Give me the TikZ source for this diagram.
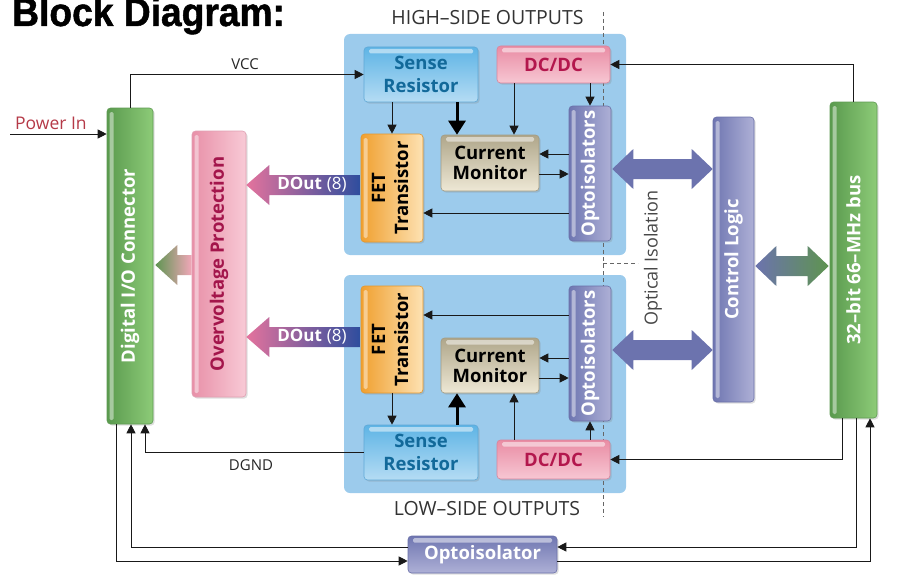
\documentclass[tikz,border=0pt]{standalone}
\usepackage{fontspec}
\setmainfont{Open Sans}
\newfontfamily\titlefont[FakeStretch=0.93,FakeBold=1.2]{Liberation Sans}
\usetikzlibrary{arrows.meta,shadows,calc}
\definecolor{grL}{HTML}{5A9A4E}
\definecolor{grR}{HTML}{8DCB78}
\definecolor{grS}{HTML}{5E9A52}
\definecolor{pkL}{HTML}{E890A8}
\definecolor{pkR}{HTML}{F8CAD6}
\definecolor{pkS}{HTML}{E0A0B2}
\definecolor{pkT}{HTML}{A3154B}
\definecolor{srT}{HTML}{5EB4E5}
\definecolor{srB}{HTML}{B5DCF4}
\definecolor{srS}{HTML}{5FA8D6}
\definecolor{srX}{HTML}{12699A}
\definecolor{dcT}{HTML}{E98CA4}
\definecolor{dcB}{HTML}{F7C7D3}
\definecolor{dcS}{HTML}{D8839B}
\definecolor{dcX}{HTML}{B3174D}
\definecolor{cmT}{HTML}{AFA68A}
\definecolor{cmB}{HTML}{EEE8D5}
\definecolor{cmS}{HTML}{A39B82}
\definecolor{feL}{HTML}{F0A030}
\definecolor{feR}{HTML}{FDE2B3}
\definecolor{feS}{HTML}{E5962A}
\definecolor{opL}{HTML}{6F76B1}
\definecolor{opR}{HTML}{AEB0D6}
\definecolor{opS}{HTML}{6A70A8}
\definecolor{panelblue}{HTML}{9CCBEC}
\definecolor{bigpur}{HTML}{6C73AE}
\definecolor{bigGrn}{HTML}{5E944F}
\definecolor{doutL}{HTML}{E4739D}
\definecolor{doutR}{HTML}{2D4D9E}
\definecolor{ovL}{HTML}{5F9552}
\definecolor{ovR}{HTML}{F2A7B9}
\definecolor{pwr}{HTML}{B53A48}
\newcommand\boxfont{\fontsize{18.5}{23}\selectfont\bfseries}
\newcommand\sglarr[4][]{%
 \path[#1] (#2) -- ($(#2)+(#4,-20)$) -- ($(#2)+(#4,-10)$) -- ($(#3)+(0,-10)$) -- ($(#3)+(0,10)$) -- ($(#2)+(#4,10)$) -- ($(#2)+(#4,20)$) -- cycle;}
\newcommand\dblarr[3][]{%
 \path[#1] (#2) -- ($(#2)+(21,-20)$) -- ($(#2)+(21,-10)$) -- ($(#3)+(-21,-10)$) -- ($(#3)+(-21,-20)$) -- (#3) -- ($(#3)+(-21,20)$) -- ($(#3)+(-21,10)$) -- ($(#2)+(21,10)$) -- ($(#2)+(21,20)$) -- cycle;}
\tikzset{
 base/.style={rounded corners=3.5pt, inner sep=0pt, line width=0.6pt, align=center, font=\boxfont,
   drop shadow={opacity=0.25,shadow xshift=1.6pt,shadow yshift=-1.6pt}},
 hlv/.style={path picture={\fill[white,opacity=.45,rounded corners=1.5pt] ([xshift=2.5pt,yshift=-4pt]path picture bounding box.north west) rectangle ([xshift=6.5pt,yshift=4pt]path picture bounding box.south west);}},
 hlh/.style={path picture={\fill[white,opacity=.5,rounded corners=1.5pt] ([xshift=5pt,yshift=-2pt]path picture bounding box.north west) rectangle ([xshift=-5pt,yshift=-6.5pt]path picture bounding box.north east);}},
 greenbar/.style={base, hlv, draw=grS, left color=grL, right color=grR, text=white},
 pinkbar/.style={base, hlv, draw=pkS, left color=pkL, right color=pkR, text=pkT},
 opbar/.style={base, hlv, draw=opS, left color=opL, right color=opR, text=white},
 fetbox/.style={base, hlv, draw=feS, left color=feL, right color=feR, text=black},
 sensebox/.style={base, hlh, draw=srS, top color=srT, bottom color=srB, text=srX},
 dcbox/.style={base, hlh, draw=dcS, top color=dcT, bottom color=dcB, text=dcX},
 cmbox/.style={base, hlh, draw=cmS, top color=cmT, bottom color=cmB, text=black, font=\fontsize{18.5}{20}\selectfont\bfseries},
 optbox/.style={base, hlh, draw=opS, top color=opL, bottom color=opR, text=white},
 panel/.style={fill=panelblue, rounded corners=6pt, inner sep=0pt},
 outlbl/.style={font=\fontsize{19.5}{20}\selectfont, text=black!80},
 small/.style={font=\fontsize{15}{15}\selectfont, text=black!85},
 arr/.style={-{Triangle[length=9pt,width=9pt]}, line width=0.9pt, black!90},
 thk/.style={-{Triangle[length=14pt,width=17pt]}, line width=3pt, black},
 dashline/.style={draw=black!60, line width=0.8pt, dash pattern=on 4pt off 3pt},
}
\begin{document}
\begin{tikzpicture}[x=1pt,y=-1pt]
\useasboundingbox (0,0) rectangle (904,578);
% title
\node[anchor=base west, inner sep=0pt, font=\titlefont\fontsize{40}{40}\selectfont\bfseries] (title) at (12,26) {Block Diagram:};
% panels
\node[panel, minimum width=282pt, minimum height=221pt] (hs) at (485,144.5) {};
\node[panel, minimum width=282pt, minimum height=218pt] (ls) at (485,384) {};
\node[outlbl, anchor=base, inner sep=0pt] (hst) at (487.5,25) {HIGH–SIDE OUTPUTS};
\node[outlbl, anchor=base, inner sep=0pt] (lst) at (487,515) {LOW–SIDE OUTPUTS};
% isolation dashed line
\coordinate (dtop) at (603,12);
\coordinate (dbot) at (603,517);
\coordinate (dmid) at (603,263);
\coordinate (dend) at (638,263);
\draw[dashline] (dtop) -- (dbot);
\draw[dashline] (dmid) -- (dend);
\node[rotate=90, inner sep=0pt, font=\fontsize{18}{18}\selectfont, text=black!72] (oi) at (653,258) {Optical Isolation};
% outer boxes
\node[greenbar, minimum width=46pt, minimum height=316pt] (dio) at (130,266) {\rotatebox{90}{Digital I/O Connector}};
\node[pinkbar, minimum width=54pt, minimum height=266pt] (ovp) at (219,264) {\rotatebox{90}{Overvoltage Protection}};
% high side boxes
\node[sensebox, minimum width=114pt, minimum height=55pt] (hsr) at (421,74.5) {Sense\\Resistor};
\node[dcbox, minimum width=113pt, minimum height=37pt] (hdc) at (553.5,64.5) {DC/DC};
\node[fetbox, minimum width=62pt, minimum height=108pt] (hfet) at (392,188) {\rotatebox{90}{\begin{tabular}{@{}c@{}}FET\\Transistor\end{tabular}}};
\node[cmbox, minimum width=98pt, minimum height=56pt] (hcm) at (490,163) {Current\\Monitor};
\node[opbar, minimum width=42pt, minimum height=135pt] (hop) at (590,173.5) {\rotatebox{90}{Optoisolators}};
% low side boxes
\node[fetbox, minimum width=62pt, minimum height=107pt] (lfet) at (392,339.5) {\rotatebox{90}{\begin{tabular}{@{}c@{}}FET\\Transistor\end{tabular}}};
\node[cmbox, minimum width=98pt, minimum height=55pt] (lcm) at (490,365.5) {Current\\Monitor};
\node[opbar, minimum width=42pt, minimum height=135pt] (lop) at (590,353.5) {\rotatebox{90}{Optoisolators}};
\node[sensebox, minimum width=114pt, minimum height=55pt] (lsr) at (421,452.5) {Sense\\Resistor};
\node[dcbox, minimum width=113pt, minimum height=39pt] (ldc) at (553.5,459.5) {DC/DC};
% right side
\node[opbar, minimum width=41pt, minimum height=285pt] (ctl) at (733.5,259.5) {\rotatebox{90}{Control Logic}};
\node[greenbar, minimum width=47pt, minimum height=316pt] (bus) at (853.5,260) {\rotatebox{90}{32–bit 66–MHz bus}};
\node[optbox, minimum width=149pt, minimum height=37pt] (opt) at (482.5,554.5) {Optoisolator};
% fat arrows
\coordinate (yd1) at (0,185);
\coordinate (yd2) at (0,337);
\coordinate (yov) at (0,265);
\coordinate (yb1) at (0,169);
\coordinate (yb2) at (0,350);
\coordinate (yc) at (0,266);
\coordinate (d1t) at (ovp.east |- yd1);
\coordinate (d1s) at (hfet.west |- yd1);
\coordinate (d2t) at (ovp.east |- yd2);
\coordinate (d2s) at (lfet.west |- yd2);
\coordinate (ovt) at ([xshift=2pt]dio.east |- yov);
\coordinate (ovs) at (ovp.west |- yov);
\coordinate (b1a) at ([xshift=1pt]hop.east |- yb1);
\coordinate (b1b) at (ctl.west |- yb1);
\coordinate (b2a) at ([xshift=1pt]lop.east |- yb2);
\coordinate (b2b) at (ctl.west |- yb2);
\coordinate (c1a) at ([xshift=1pt]ctl.east |- yc);
\coordinate (c1b) at ([xshift=-1pt]bus.west |- yc);
\sglarr[left color=doutL, right color=doutR]{d1t}{d1s}{23}
\sglarr[left color=doutL, right color=doutR]{d2t}{d2s}{23}
\sglarr[left color=ovL, right color=ovR]{ovt}{ovs}{22}
\dblarr[fill=bigpur]{b1a}{b1b}
\dblarr[fill=bigpur]{b2a}{b2b}
\dblarr[left color=bigpur, right color=bigGrn]{c1a}{c1b}
\node[text=white, font=\fontsize{17}{17}\selectfont, inner sep=0pt] (do1) at (312,185) {\textbf{DOut}\hspace{5pt}(8)};
\node[text=white, font=\fontsize{17}{17}\selectfont, inner sep=0pt] (do2) at (312,337) {\textbf{DOut}\hspace{5pt}(8)};
% thin connectors: power and VCC
\coordinate (pin) at (10,134);
\draw[arr] (pin) -- (dio.west |- pin);
\node[anchor=base west, inner sep=0pt, text=pwr, font=\fontsize{17.5}{18}\selectfont] (pinl) at (15,129) {Power In};
\draw[arr] (dio.north) |- (hsr.west);
\node[small, anchor=base, inner sep=0pt] (vccl) at (245,70) {VCC};
\draw[arr] (bus.north) |- (hdc.east);
% high side internal
\coordinate (xa) at (457,0);
\coordinate (xb) at (514,0);
\draw[arr] (hsr.south -| hfet.north) -- (hfet.north);
\draw[thk] (hsr.south -| xa) -- (hcm.north -| xa);
\draw[arr] (hdc.south -| xb) -- (hcm.north -| xb);
\draw[arr] (hdc.south -| hop.north) -- (hop.north);
\coordinate (y1) at (0,154);
\coordinate (y2) at (0,174);
\coordinate (y3) at (0,213);
\draw[arr] (hop.west |- y1) -- (hcm.east |- y1);
\draw[arr] (hcm.east |- y2) -- (hop.west |- y2);
\draw[arr] (hop.west |- y3) -- (hfet.east |- y3);
% low side internal
\coordinate (y4) at (0,315);
\coordinate (y5) at (0,358);
\coordinate (y6) at (0,378);
\draw[arr] (lop.west |- y4) -- (lfet.east |- y4);
\draw[arr] (lop.west |- y5) -- (lcm.east |- y5);
\draw[arr] (lcm.east |- y6) -- (lop.west |- y6);
\draw[arr] (lfet.south) -- (lsr.north -| lfet.south);
\draw[thk] (lsr.north -| xa) -- (lcm.south -| xa);
\draw[arr] (ldc.north -| xb) -- (lcm.south -| xb);
\draw[arr] (ldc.north -| lop.south) -- (lop.south);
% bottom wiring
\coordinate (xc) at (842,0);
\coordinate (xd) at (856,0);
\coordinate (xe) at (870,0);
\coordinate (xf) at (116,0);
\coordinate (xg) at (131,0);
\coordinate (xh) at (145,0);
\coordinate (ya) at (0,547);
\coordinate (yb) at (0,561);
\draw[arr] (bus.south -| xc) |- (ldc.east);
\draw[arr] (bus.south -| xd) |- (opt.east |- ya);
\draw[arr] (opt.east |- yb) -| (bus.south -| xe);
\draw[arr] (dio.south -| xf) |- (opt.west |- yb);
\draw[arr] (opt.west |- ya) -| (dio.south -| xg);
\draw[arr] (lsr.west) -| (dio.south -| xh);
\node[small, anchor=base, inner sep=0pt] (dgndl) at (251,470) {DGND};
\end{tikzpicture}
\end{document}
